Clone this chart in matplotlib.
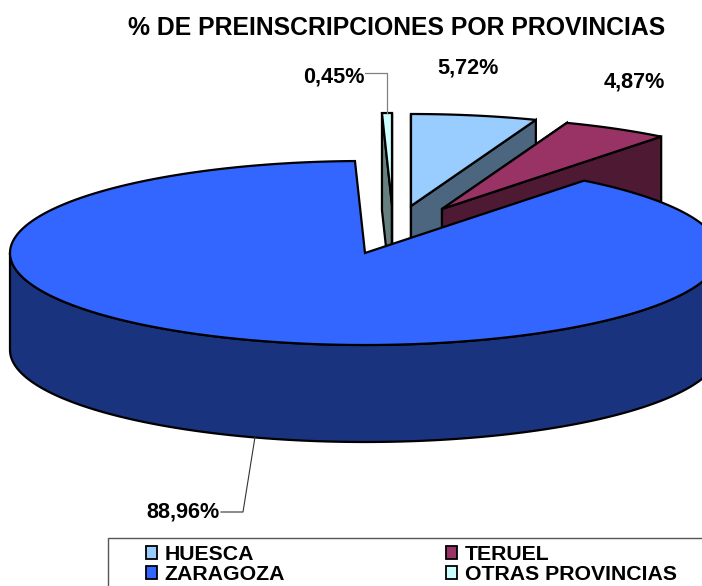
import numpy as np
from matplotlib import pyplot as plt
from matplotlib.patches import Polygon, Patch, Rectangle

plt.rcParams['font.family'] = ['Liberation Sans', 'DejaVu Sans']

provinces = ["HUESCA", "TERUEL", "ZARAGOZA", "OTRAS PROVINCIAS"]
shares = [5.72, 4.87, 88.96, 0.45]
share_labels = ["5,72%", "4,87%", "88,96%", "0,45%"]
top_colors = ["#99CCFF", "#993366", "#3366FF", "#CCFFFF"]
side_colors = ["#4D6680", "#4D1933", "#19337F", "#668080"]

# apex of each slice in pixels, exploded slices sit up and to the right
apex_x = [411, 442, 365, 392]
apex_y = [206, 209, 253, 205]
RX, RY, DEPTH = 355, 92, 97


def slice_angles():
    # clockwise from 12 o'clock
    ends = 90 - np.cumsum(shares) * 3.6
    starts = np.r_[90, ends[:-1]]
    return starts, ends


def arc(i, t0, t1, n=200):
    t = np.radians(np.linspace(t0, t1, n))
    return np.c_[apex_x[i] + RX * np.cos(t), apex_y[i] - RY * np.sin(t)]


def cut_face(i, t):
    a = np.array([apex_x[i], apex_y[i]], dtype=float)
    o = arc(i, t, t, 1)[0]
    d = np.array([0, DEPTH])
    return [a, o, o + d, a + d]


fig = plt.figure(figsize=(7.02, 5.86), dpi=100)
ax = fig.add_axes([0, 0, 1, 1])
ax.set_xlim(0, 702)
ax.set_ylim(586, 0)
ax.axis("off")

starts, ends = slice_angles()
edge = dict(edgecolor="black", linewidth=1.6, joinstyle="miter")

# back slices first, zaragoza goes over them
for i in [3, 0, 1]:
    ax.add_patch(Polygon(cut_face(i, starts[i]), facecolor=side_colors[i], **edge))
    ax.add_patch(Polygon(cut_face(i, ends[i]), facecolor=side_colors[i], **edge))
    top = np.vstack([[apex_x[i], apex_y[i]], arc(i, starts[i], ends[i])])
    ax.add_patch(Polygon(top, facecolor=top_colors[i], **edge))

# front wall of the big slice
front = arc(2, 180, 360)
wall = np.vstack([front, (front + [0, DEPTH])[::-1]])
ax.add_patch(Polygon(wall, facecolor=side_colors[2], **edge))
top = np.vstack([[apex_x[2], apex_y[2]], arc(2, starts[2], ends[2], 600)])
ax.add_patch(Polygon(top, facecolor=top_colors[2], **edge))

# leader lines
ax.plot([365, 387, 387], [73, 73, 113], color="#808080", lw=0.9)
ax.plot([221, 243, 255], [512, 512, 437], color="#333333", lw=0.8)

label_font = dict(fontsize=15.6, fontweight="bold", color="black", va="center")
ax.text(499, 68, share_labels[0], ha="right", **label_font)
ax.text(665, 82, share_labels[1], ha="right", **label_font)
ax.text(220, 512, share_labels[2], ha="right", **label_font)
ax.text(365, 77, share_labels[3], ha="right", **label_font)

ax.text(397, 28, "% DE PREINSCRIPCIONES POR PROVINCIAS", ha="center", va="center",
        fontsize=17.8, fontweight="bold", color="black")

# legend box runs off the right and bottom of the picture
ax.add_patch(Rectangle((108, 538), 620, 80, facecolor="white", edgecolor="#555555", linewidth=1.0))
handles = [Patch(facecolor=top_colors[i], edgecolor="black", linewidth=1.3, label=provinces[i])
           for i in [0, 2, 1, 3]]
leg = ax.legend(handles=handles, ncol=2, loc="upper left", bbox_to_anchor=(146, 545),
                bbox_transform=ax.transData, borderaxespad=0, borderpad=0, fontsize=15.3,
                handlelength=0.5, handleheight=0.5, handletextpad=0.38,
                labelspacing=0.05, columnspacing=7.58, frameon=False)
for t in leg.get_texts():
    t.set_fontweight("bold")
    t.set_color("black")

fig.savefig("out.png", dpi=100)
